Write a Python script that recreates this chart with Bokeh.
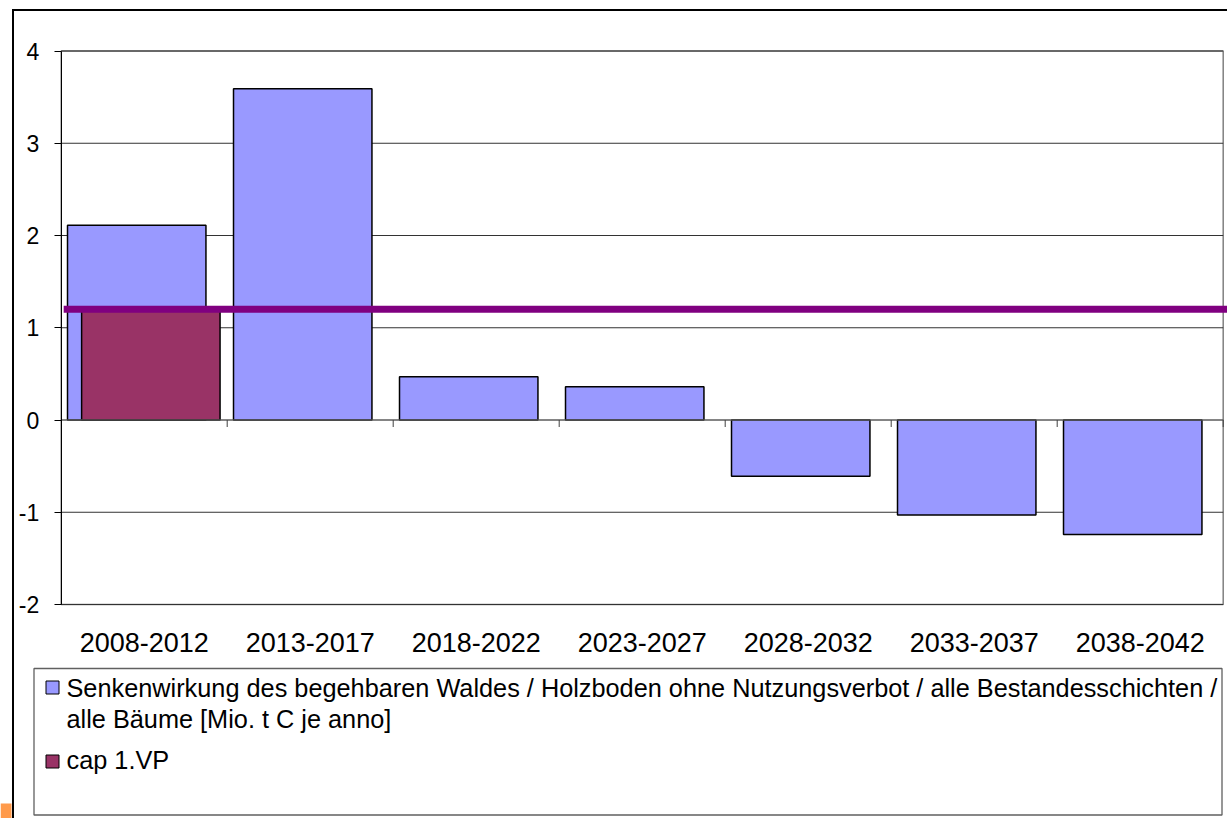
from bokeh.plotting import figure
from bokeh.models import Range1d, FixedTicker, LinearAxis, ColumnDataSource
from bokeh.embed import file_html
from bokeh.resources import INLINE
from bokeh.core.properties import value

# ---- data ----
categories = ["2008-2012", "2013-2017", "2018-2022", "2023-2027",
              "2028-2032", "2033-2037", "2038-2042"]
sink_values = [2.11, 3.59, 0.47, 0.36, -0.61, -1.03, -1.24]
cap_categories = ["2008-2012"]
cap_values = [1.2]
cap_line_value = 1.2
y_ticks = [-2, -1, 0, 1, 2, 3, 4]
legend_labels = [
    "Senkenwirkung des begehbaren Waldes / Holzboden ohne Nutzungsverbot / alle Bestandesschichten /",
    "alle Bäume [Mio. t C je anno]",
    "cap 1.VP",
]

# ---- style / layout constants ----
BLUE = "#9999FF"
PLUM = "#993366"
PURPLE = "#800080"
FONT = "Liberation Sans"
W, H = 1227, 818
PLOT_L, PLOT_R = 60.7, 1222.7      # plot-area edges in pixels
PLOT_T, PLOT_B = 50.5, 604.0

n = len(categories)
y_lo, y_hi = y_ticks[0], y_ticks[-1]
px_per_x = (PLOT_R - PLOT_L) / n
px_per_y = (PLOT_B - PLOT_T) / (y_hi - y_lo)
x_range = Range1d(-PLOT_L / px_per_x, n + (W - PLOT_R) / px_per_x)
y_range = Range1d(y_lo - (H - PLOT_B) / px_per_y, y_hi + PLOT_T / px_per_y)

p = figure(width=W, height=H, x_range=x_range, y_range=y_range,
           x_axis_type=None, y_axis_type=None,
           output_backend="svg", toolbar_location=None,
           min_border=0, min_border_left=0, min_border_right=0,
           min_border_top=0, min_border_bottom=0)
p.extra_x_ranges = {"px": Range1d(0, W)}
p.extra_y_ranges = {"px": Range1d(H, 0)}
p.outline_line_color = None
p.background_fill_color = "white"
p.border_fill_color = "white"
p.grid.visible = False

# plot area border
p.quad(left=[0], right=[n], top=[y_hi], bottom=[y_lo], fill_color=None,
       line_color="#808080", line_width=1.5)
# horizontal gridlines
p.segment(x0=[0] * len(y_ticks), x1=[n] * len(y_ticks), y0=y_ticks, y1=y_ticks,
          line_color="#333333", line_width=1)

idx = {c: i for i, c in enumerate(categories)}
bar_w = 0.834
src_sink = ColumnDataSource(dict(
    x=[i + 0.5 - 0.045 for i in range(n)], top=sink_values, cat=categories))
src_cap = ColumnDataSource(dict(
    x=[idx[c] + 0.5 + 0.04 for c in cap_categories], top=cap_values))

p.vbar(x="x", top="top", bottom=0, width=bar_w, source=src_sink,
       fill_color=BLUE, line_color="black", line_width=1.5)
p.vbar(x="x", top="top", bottom=0, width=bar_w, source=src_cap,
       fill_color=PLUM, line_color="black", line_width=1.5)

# category axis line at 0 with boundary ticks
p.segment(x0=[0], x1=[n], y0=[0], y1=[0], line_color="#707070", line_width=1)
p.segment(x0=list(range(1, n + 1)), y0=[0] * n, x1=list(range(1, n + 1)),
          y1=[-7 / px_per_y] * n, line_color="#404040", line_width=1)

# cap line
p.line(x=[0.015, x_range.end], y=[cap_line_value, cap_line_value],
       line_color=PURPLE, line_width=7)

# value axis
yax = LinearAxis(fixed_location=0, bounds=(y_lo, y_hi))
yax.ticker = FixedTicker(ticks=y_ticks)
yax.major_label_overrides = {t: str(t) for t in y_ticks}
yax.axis_line_color = "black"
yax.axis_line_width = 1
yax.major_tick_out = 7
yax.major_tick_in = 0
yax.minor_tick_line_color = None
yax.major_label_standoff = 15
yax.major_label_text_font = FONT
yax.major_label_text_font_size = "23px"
yax.major_label_text_color = "black"
p.add_layout(yax, "left")

# category labels
xax = LinearAxis(fixed_location=y_lo, bounds=(0, n))
xax.ticker = FixedTicker(ticks=[i + 0.5 for i in range(n)])
xax.major_label_overrides = {i + 0.5: c for i, c in enumerate(categories)}
xax.axis_line_color = None
xax.major_tick_line_color = None
xax.minor_tick_line_color = None
xax.major_label_standoff = 22
xax.major_label_text_font = FONT
xax.major_label_text_font_size = "27px"
xax.major_label_text_color = "black"
p.add_layout(xax, "below")

# ---- legend (pixel coordinates) ----
p.quad(left=[33.5], right=[1221.5], top=[668], bottom=[814.5], fill_color=None,
       line_color="#606060", line_width=1.3, x_range_name="px", y_range_name="px")
p.scatter(x=[52, 52], y=[687, 761], marker="square", size=13,
          fill_color=[BLUE, PLUM], line_color="black", line_width=1,
          x_range_name="px", y_range_name="px")
p.text(x=[66, 66, 66], y=[687, 718, 759], text=legend_labels,
       text_font=value(FONT), text_font_size="25.3px", text_color="black",
       text_baseline="middle", text_align="left",
       x_range_name="px", y_range_name="px")

# outer chart frame and the small orange mark at bottom-left
p.segment(x0=[12.5, 11.5], y0=[8.5, 9.5], x1=[12.5, W], y1=[H, 9.5],
          line_color="black", line_width=2, x_range_name="px", y_range_name="px")
p.quad(left=[0], right=[11], top=[803], bottom=[H], fill_color="#FF9A4A", line_color=None,
       x_range_name="px", y_range_name="px")

open("out.html", "w").write(file_html(p, INLINE))
